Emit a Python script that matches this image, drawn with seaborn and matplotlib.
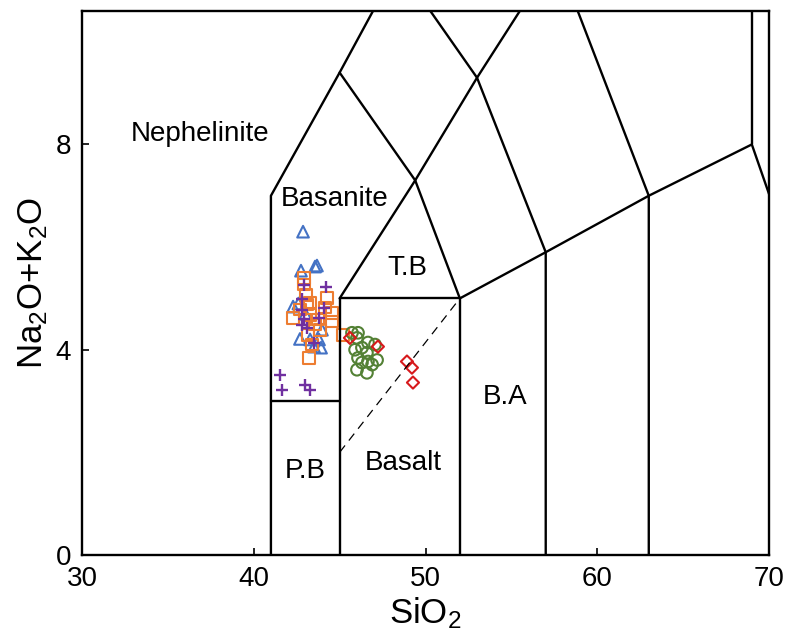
import matplotlib
matplotlib.use("Agg")
import matplotlib.pyplot as plt
import seaborn as sns

# SAMPLE DATA (SiO2, Na2O+K2O)
tri_x = [42.87, 43.68, 42.75, 43.57, 42.29, 42.69, 43.97, 43.80, 43.92, 43.28, 43.51, 42.60, 43.00]
tri_y = [6.30, 5.64, 5.54, 5.62, 4.84, 4.21, 4.39, 4.20, 4.04, 4.20, 4.06, 4.90, 4.70]

sq_x = [42.93, 42.93, 43.04, 43.28, 44.26, 44.15, 44.56, 44.56, 42.29, 42.98, 43.28, 43.57,
        43.86, 43.74, 43.16, 43.39, 43.22, 45.20, 42.69, 43.10]
sq_y = [5.40, 5.27, 5.07, 4.92, 5.01, 4.82, 4.72, 4.55, 4.62, 4.59, 4.68, 4.49,
        4.39, 4.59, 4.29, 4.10, 3.84, 4.29, 4.78, 4.88]

plus_x = [42.93, 44.21, 42.81, 42.81, 44.09, 43.80, 42.93, 42.81, 43.10, 43.51, 41.53, 41.64, 42.98, 43.28]
plus_y = [5.27, 5.23, 4.98, 4.78, 4.82, 4.62, 4.59, 4.49, 4.43, 4.14, 3.51, 3.22, 3.32, 3.22]

circ_x = [45.72, 46.07, 46.01, 46.65, 46.30, 45.90, 46.59, 46.07, 46.65, 47.18, 46.01, 46.59, 46.89, 46.30, 47.06]
circ_y = [4.33, 4.33, 4.23, 4.14, 4.04, 4.00, 3.94, 3.84, 3.77, 3.80, 3.61, 3.55, 3.71, 3.75, 4.10]

dia_x = [45.60, 47.23, 48.92, 49.21, 49.27]
dia_y = [4.23, 4.06, 3.77, 3.65, 3.36]

# TAS FIELD BOUNDARIES
boundaries = [
    [(41, 0), (41, 7), (45, 9.4), (48.4, 11.5)],
    [(41, 3), (45, 3)],
    [(45, 0), (45, 5), (52, 5), (52, 0)],
    [(45, 5), (49.4, 7.3), (52, 5)],
    [(45, 9.4), (49.4, 7.3), (53, 9.3), (57.6, 11.7)],
    [(48.4, 11.5), (53, 9.3), (57, 5.9), (57, 0)],
    [(52, 5), (57, 5.9), (63, 7), (69, 8), (77.3, 0)],
    [(63, 0), (63, 7), (57.6, 11.7)],
    [(69, 8), (69, 13)],
]
dashed = [(45, 2), (52, 5)]

field_names = ["Nephelinite", "Basanite", "T.B", "B.A", "Basalt", "P.B"]
field_x = [36.87, 44.73, 48.92, 54.63, 48.69, 42.98]
field_y = [8.20, 6.93, 5.60, 3.08, 1.80, 1.64]

sns.set_theme(style="ticks")
plt.rcParams['font.family'] = ['Liberation Sans', 'DejaVu Sans']
plt.rcParams['mathtext.fontset'] = 'custom'
plt.rcParams['mathtext.rm'] = 'Liberation Sans'
plt.rcParams['mathtext.default'] = 'rm'
for key in ['text.color', 'axes.labelcolor', 'xtick.color', 'ytick.color', 'axes.edgecolor']:
    plt.rcParams[key] = 'black'

fig = plt.figure(figsize=(7.87, 6.39), dpi=100)
ax = fig.add_axes([82 / 787, 1 - 555 / 639, (769 - 82) / 787, (555 - 11) / 639])

for seg in boundaries:
    xs, ys = zip(*seg)
    sns.lineplot(x=list(xs), y=list(ys), ax=ax, color="black", lw=1.7, sort=False,
                 estimator=None)
xs, ys = zip(*dashed)
ax.plot(xs, ys, color="black", lw=0.9, dashes=(7, 5))

# open markers
groups = [
    (tri_x, tri_y, "^", "#4472C4", 70),
    (sq_x, sq_y, "s", "#ED7D31", 70),
    (circ_x, circ_y, "o", "#538135", 70),
    (dia_x, dia_y, "D", "#D7191C", 38),
]
for gx, gy, mk, c, sz in groups:
    n = len(ax.collections)
    sns.scatterplot(x=gx, y=gy, marker=mk, s=sz, ax=ax, color=c)
    coll = ax.collections[n]
    coll.set_facecolor("none")
    coll.set_edgecolor(c)
    coll.set_linewidth(1.5)

sns.scatterplot(x=plus_x, y=plus_y, marker="+", s=85, ax=ax, color="#7030A0", linewidth=1.7)

for name, tx, ty in zip(field_names, field_x, field_y):
    ax.text(tx, ty, name, ha="center", va="center", fontsize=20)

ax.set_xlim(30, 70)
ax.set_ylim(0, 10.6)
ax.set_xticks([30, 40, 50, 60, 70])
ax.set_yticks([0, 4, 8])
ax.tick_params(direction="in", length=5, width=1.2, labelsize=20, pad=8)
for sp in ax.spines.values():
    sp.set_linewidth(1.7)
    sp.set_visible(True)
ax.set_xlabel(r"SiO$_2$", fontsize=25, labelpad=2)
ax.set_ylabel(r"Na$_2$O+K$_2$O", fontsize=25, labelpad=4)

fig.savefig("out.png", dpi=100)
